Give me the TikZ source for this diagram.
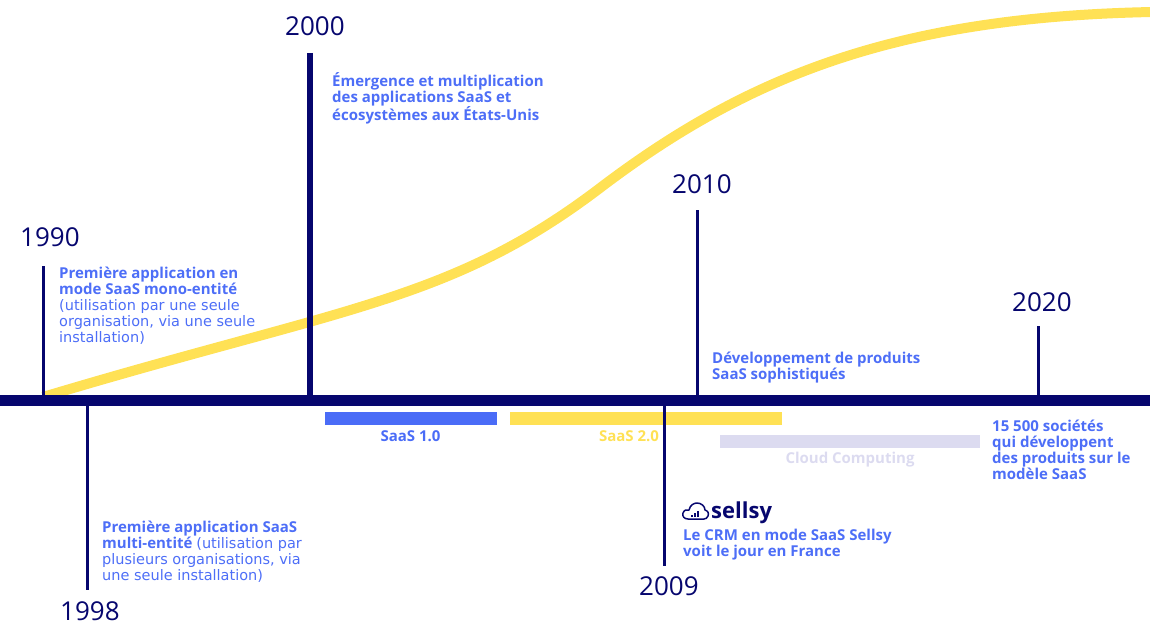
\documentclass[tikz,border=0pt]{standalone}
\usepackage{fontspec}
\setmainfont{Open Sans}
\newfontfamily\regfont{DejaVu Sans}
\definecolor{navy}{HTML}{06066E}
\definecolor{tblue}{HTML}{4D6EF7}
\definecolor{bblue}{HTML}{4A6CF7}
\definecolor{cyel}{HTML}{FFE155}
\definecolor{lav}{HTML}{DCDBF0}
\newcommand{\mystrut}{\rule{0pt}{14pt}}
\newcommand{\rg}[1]{{\regfont\mdseries\fontsize{14.5}{16}\selectfont #1}}
\tikzset{
  txt/.style={anchor=north west, inner sep=0pt, align=left, text=tblue,
    font=\fontsize{15}{16}\selectfont\bfseries},
  year/.style={anchor=base west, inner sep=0pt, text=navy,
    font=\fontsize{26}{28}\selectfont},
  barlabel/.style={anchor=base, inner sep=0pt, font=\fontsize{15}{16}\selectfont\bfseries},
  tick/.style={draw=navy, line width=3pt},
  bigtick/.style={draw=navy, line width=6pt},
  axis/.style={draw=navy, line width=11pt},
  curve/.style={draw=cyel, line width=10pt},
}
\begin{document}
\begin{tikzpicture}[x=1pt, y=-1pt]
\useasboundingbox (0,0) rectangle (1150,623);
% growth curve
\coordinate (c0) at (43,397);
\coordinate (c1) at (600,188);
\coordinate (c2) at (1152,12);
\draw[curve] (c0) .. controls (343,307) and (450,302) .. (c1)
  .. controls (750,74) and (900,17) .. (c2);
% bars
\fill[bblue] (325,412) rectangle (497,425);
\fill[cyel] (510,412) rectangle (782,425);
\fill[lav] (720,435) rectangle (980,448);
\node[barlabel, text=bblue] (l10) at (410.5,441) {SaaS 1.0};
\node[barlabel, text=cyel] (l20) at (629,441) {SaaS 2.0};
\node[barlabel, text=lav] (lcc) at (850,463) {Cloud Computing};
% axis
\coordinate (axL) at (0,400.5);
\coordinate (axR) at (1150,400.5);
\draw[axis] (axL) -- (axR);
% ticks
\coordinate (t1990a) at (43,266);   \coordinate (t1990b) at (43,400);
\coordinate (t2000a) at (310,53);   \coordinate (t2000b) at (310,400);
\coordinate (t2010a) at (697,210);  \coordinate (t2010b) at (697,400);
\coordinate (t2020a) at (1038.5,326); \coordinate (t2020b) at (1038.5,400);
\coordinate (t1998a) at (87.5,400); \coordinate (t1998b) at (87.5,590);
\coordinate (t2009a) at (664,400);  \coordinate (t2009b) at (664,566);
\draw[tick] (t1990a) -- (t1990b);
\draw[bigtick] (t2000a) -- (t2000b);
\draw[tick] (t2010a) -- (t2010b);
\draw[tick] (t2020a) -- (t2020b);
\draw[tick] (t1998a) -- (t1998b);
\draw[tick] (t2009a) -- (t2009b);
% years
\node[year] (y1990) at (20,246) {1990};
\node[year] (y2000) at (285,36) {2000};
\node[year] (y2010) at (672,193) {2010};
\node[year] (y2020) at (1012,311) {2020};
\node[year] (y1998) at (60,620) {1998};
\node[year] (y2009) at (639,595) {2009};
% texts
\node[txt] (b1990) at (59,264) {\mystrut Première application en\\mode SaaS mono-entité\\\rg{(utilisation par une seule}\\\rg{organisation, via une seule}\\\rg{installation)}};
\node[txt] (b2000) at (332,72) {\mystrut Émergence et multiplication\\des applications SaaS et\\écosystèmes aux États-Unis};
\node[txt] (b2010) at (712,349) {\mystrut Développement de produits\\SaaS sophistiqués};
\node[txt] (b2020) at (992,417) {\mystrut 15 500 sociétés\\qui développent\\des produits sur le\\modèle SaaS};
\node[txt] (b1998) at (102,518) {\mystrut Première application SaaS\\multi-entité \rg{(utilisation par}\\\rg{plusieurs organisations, via}\\\rg{une seule installation)}};
\node[txt] (b2009) at (683,526) {\mystrut Le CRM en mode SaaS Sellsy\\voit le jour en France};
% sellsy logo
\draw[navy, line width=1.5pt, line join=round]
  (704,519) -- (688,519) .. controls (684,519) and (682,516) .. (683,513)
  .. controls (684,510) and (687,509) .. (689,510)
  .. controls (690,505) and (694,503) .. (697,503)
  .. controls (701,503) and (705,506) .. (705,510)
  .. controls (708,511) and (709,513) .. (708,516)
  .. controls (707,518) and (706,519) .. (704,519) -- cycle;
\draw[navy, line width=1.4pt] (692,517) -- (692,515) (695,517) -- (695,513) (698,517) -- (698,511);
\node[anchor=base west, inner sep=0pt, text=navy, font=\fontsize{22}{24}\selectfont\bfseries] (sellsy) at (711,518) {sellsy};
\end{tikzpicture}
\end{document}
